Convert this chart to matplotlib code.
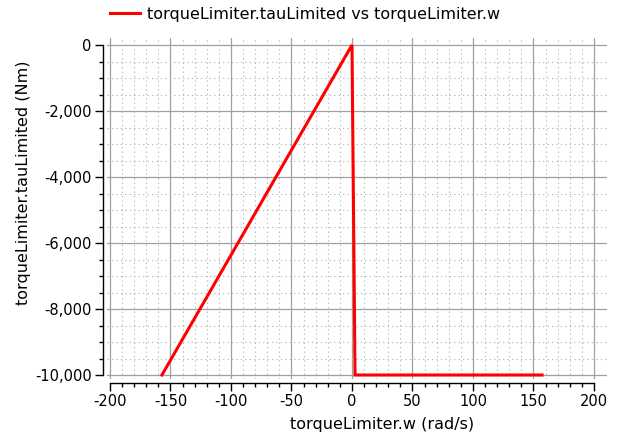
import matplotlib
matplotlib.use("Agg")
import matplotlib.pyplot as plt
from matplotlib.ticker import FixedLocator, FuncFormatter

w = [-157.08, 0.0, 2.5, 157.08]
tau = [-10000.0, 0.0, -10000.0, -10000.0]
series_label = "torqueLimiter.tauLimited vs torqueLimiter.w"
xlabel = "torqueLimiter.w (rad/s)"
ylabel = "torqueLimiter.tauLimited (Nm)"
x_major = list(range(-200, 201, 50))
y_major = list(range(-10000, 1, 2000))

W, H = 619, 437
fig = plt.figure(figsize=(W / 100, H / 100), dpi=100)
L, R, T, B = 107, 607, 38, 379
ax = fig.add_axes([L / W, 1 - B / H, (R - L) / W, (B - T) / H])

ax.plot(w, tau, color="#ff0000", lw=2.2, label=series_label, solid_joinstyle="miter")

sx = (594 - 110) / 400
ax.set_xlim(-200 - (110 - L) / sx, 200 + (R - 594) / sx)
sy = (375 - 45) / 10000
ax.set_ylim(-10000 - (B - 375) / sy, 0 + (45 - T) / sy)

x_minor = [v for v in range(-200, 201, 10) if v % 50 != 0]
y_minor = [v for v in range(-10000, 1, 500) if v % 2000 != 0]
ax.xaxis.set_major_locator(FixedLocator(x_major))
ax.xaxis.set_minor_locator(FixedLocator(x_minor))
ax.yaxis.set_major_locator(FixedLocator(y_major))
ax.yaxis.set_minor_locator(FixedLocator(y_minor))
ax.yaxis.set_major_formatter(FuncFormatter(lambda v, p: f"{v:,.0f}"))
ax.xaxis.set_major_formatter(FuncFormatter(lambda v, p: f"{v:.0f}"))

ax.grid(True, which="major", color="#a0a0a0", lw=0.9, ls="-")
ax.grid(True, which="minor", color="#b8b8b8", lw=0.8, ls=(0, (1.2, 2.8)))
ax.set_axisbelow(True)

for s in ["top", "right"]:
    ax.spines[s].set_visible(False)
ax.spines["left"].set_position(("outward", 3))
ax.spines["bottom"].set_position(("outward", 3))
ax.spines["left"].set_bounds(-10000, 0)
ax.spines["bottom"].set_bounds(-200, 200)
for s in ["left", "bottom"]:
    ax.spines[s].set_linewidth(1.0)
    ax.spines[s].set_color("black")

ax.tick_params(which="major", direction="out", length=6, width=1, labelsize=10.5, pad=2)
ax.tick_params(which="minor", direction="out", length=3, width=1)
ax.set_xlabel(xlabel, fontsize=11.5)
ax.set_ylabel(ylabel, fontsize=11.5)
ax.xaxis.set_label_coords((382 - L) / (R - L), -(424 - B) / (B - T), transform=ax.transAxes)
ax.xaxis.label.set_va("center")
ax.yaxis.set_label_coords(-(L - 23) / (R - L), (B - 183) / (B - T), transform=ax.transAxes)
ax.yaxis.label.set_va("center")

fig.legend(loc="center left", bbox_to_anchor=(110 / W, 1 - 14 / H), frameon=False, fontsize=11.5,
           handlelength=1.85, handletextpad=0.45, borderpad=0, borderaxespad=0)

fig.savefig("out.png", dpi=100)
